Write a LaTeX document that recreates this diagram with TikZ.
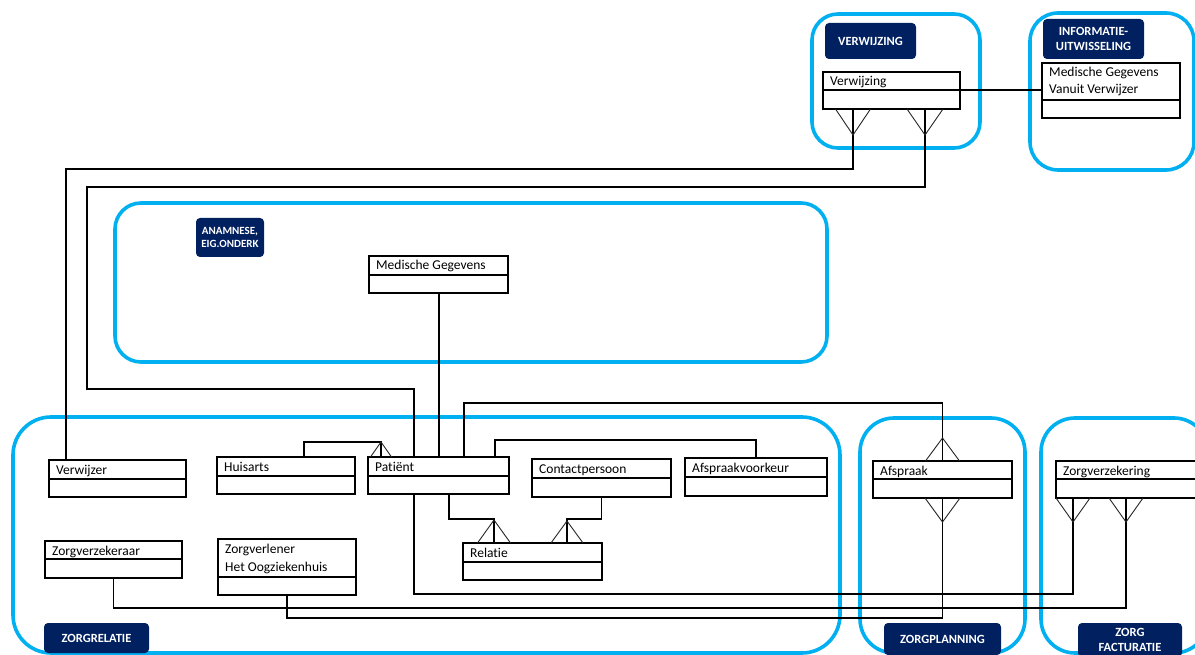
\documentclass[tikz,border=0pt]{standalone}
\usepackage{fontspec}
\setmainfont{Carlito}[Ligatures={NoCommon}]
\usetikzlibrary{fit}
\definecolor{groupblue}{RGB}{0,176,240}
\definecolor{labelnavy}{RGB}{0,32,96}

\tikzset{
  group/.style={draw=groupblue, line width=3.6pt, rounded corners=#1, inner sep=0pt, outer sep=0pt},
  group/.default=30pt,
  classbox/.style={draw=black, line width=1.8pt, fill=white, inner sep=0pt, outer sep=0pt},
  divider/.style={draw=black, line width=1.8pt},
  classtext/.style={anchor=base west, inner sep=0pt, font=\fontsize{13.5}{18}\selectfont},
  conn/.style={draw=black, line width=1.8pt},
  foot/.style={draw=black!85, line width=0.9pt},
  tag/.style={fill=labelnavy, rounded corners=4pt, text=white, align=center, inner sep=0pt,
    font=\bfseries\fontsize{12.5}{15.5}\selectfont},
}

% class box: name, left, top, right, divider y, bottom, title
\newcommand\umlclass[7]{%
  \node[classbox, fit={(#2,#3) (#4,#6)}] (#1) {};
  \draw[divider] (#2,#5) -- (#4,#5);
  \node[classtext] (#1-title) at ({#2+7},{#3+14}) {#7};
}
% crow's foot: point, half width, depth (positive = upwards)
\newcommand\crowfoot[3]{%
  \draw[foot] ([xshift=-#2]#1) -- ([yshift=#3]#1) -- ([xshift=#2]#1);
}

\begin{document}
\begin{tikzpicture}[x=1pt, y=-1pt]
\useasboundingbox (0,0) rectangle (1195,655);
\fill[white] (0,0) rectangle (1195,655);
\clip (0,0) rectangle (1195,655);

% ---- domain groups ----
\node[group=26pt, fit={(812,14) (980,148)}] (g-verwijzing) {};
\node[group=28pt, fit={(1030,13) (1194,170)}] (g-info) {};
\node[group=26pt, fit={(115,203) (827,362)}] (g-anamnese) {};
\node[group=38pt, fit={(13,417) (840,653)}] (g-zorgrelatie) {};
\node[group=34pt, fit={(860,418) (1025,653)}] (g-zorgplanning) {};
\node[group=34pt, fit={(1041,418) (1208,653)}] (g-facturatie) {};

% ---- classes ----
\umlclass{verwijzing}{823}{72}{960}{90}{109}{Verwijzing}
\umlclass{mgvv}{1042}{63}{1180}{100}{118}{Medische Gegevens}
\node[classtext] (mgvv-title2) at (1049,94) {Vanuit Verwijzer};
\umlclass{medgeg}{369}{256}{508}{275}{293}{Medische Gegevens}
\umlclass{verwijzer}{49}{460}{186}{479}{497}{Verwijzer}
\umlclass{huisarts}{217}{457}{355}{476}{494}{Huisarts}
\umlclass{patient}{368}{457}{509}{476}{494}{Patiënt}
\umlclass{contact}{532}{459}{671}{478}{497}{Contactpersoon}
\umlclass{afspraakvk}{685}{458}{827}{477}{496}{Afspraakvoorkeur}
\umlclass{relatie}{463}{543}{602}{562}{580}{Relatie}
\umlclass{zorgverzekeraar}{45}{541}{182}{559}{578}{Zorgverzekeraar}
\umlclass{zorgverlener}{218}{539}{356}{577}{595}{Zorgverlener}
\node[classtext] (zorgverlener-title2) at (225,571) {Het Oogziekenhuis};
\umlclass{afspraak}{873}{461}{1012}{479}{498}{Afspraak}
\umlclass{zorgverz}{1056}{461}{1205}{479}{498}{Zorgverzekering}

% ---- attachment points ----
\coordinate (vw-a) at ([xshift=30pt]verwijzing.south west);
\coordinate (vw-b) at ([xshift=102pt]verwijzing.south west);
\coordinate (vw-e) at ([yshift=0.5pt]verwijzing.east);
\coordinate (pt-n1) at ([xshift=46pt]patient.north west);
\coordinate (pt-n2) at ([xshift=71pt]patient.north west);
\coordinate (pt-n3) at ([xshift=96pt]patient.north west);
\coordinate (pt-n4) at ([xshift=127pt]patient.north west);
\coordinate (pt-ha) at ([xshift=13pt]patient.north west);
\coordinate (pt-s1) at ([xshift=46pt]patient.south west);
\coordinate (pt-s2) at ([xshift=81pt]patient.south west);
\coordinate (ha-n) at ([xshift=87pt]huisarts.north west);
\coordinate (vz-n) at ([xshift=17pt]verwijzer.north west);
\coordinate (rel-a) at ([xshift=31pt]relatie.north west);
\coordinate (rel-b) at ([xshift=104pt]relatie.north west);
\coordinate (zv-a) at ([xshift=17pt]zorgverz.south west);
\coordinate (zv-b) at ([xshift=70pt]zorgverz.south west);

% ---- connectors ----
\draw[conn] (vz-n) -- ++(0,-291) -| (vw-a);
\draw[conn] (pt-n1) -- ++(0,-68) -- ++(-327,0) -- ++(0,-202) -| (vw-b);
\draw[conn] (pt-n2) -- (pt-n2 |- medgeg.south);
\draw[conn] (pt-n3) -- ++(0,-54) -| (afspraak.north);
\draw[conn] (pt-n4) -- ++(0,-17) -| (afspraakvk.north);
\draw[conn] (ha-n) -- ++(0,-15) -| (pt-ha);
\draw[conn] (pt-s2) -- ++(0,25) -| (rel-a);
\draw[conn] (contact.south) -- ++(0,22) -| (rel-b);
\draw[conn] (pt-s1) -- ++(0,100) -| (zv-a);
\draw[conn] (zorgverzekeraar.south) -- ++(0,30) -| (zv-b);
\draw[conn] (zorgverlener.south) -- ++(0,23) -| (afspraak.south);
\draw[conn] (vw-e) -- (mgvv.west |- vw-e);

% ---- crow's feet ----
\crowfoot{vw-a}{17.5pt}{-26pt}
\crowfoot{vw-b}{18pt}{-26pt}
\crowfoot{afspraak.north}{17pt}{23pt}
\crowfoot{afspraak.south}{17.5pt}{-24pt}
\crowfoot{zv-a}{17pt}{-24pt}
\crowfoot{zv-b}{17pt}{-24pt}
\crowfoot{rel-a}{16.5pt}{23pt}
\crowfoot{rel-b}{16pt}{22pt}
\crowfoot{pt-ha}{10.5pt}{15pt}

% ---- group labels ----
\node[tag, minimum width=91pt, minimum height=36pt] (t-verwijzing) at (870.5,41) {VERWIJZING};
\node[tag, minimum width=101pt, minimum height=40pt] (t-info) at (1093.5,39) {INFORMATIE-\\UITWISSELING};
\node[tag, minimum width=68pt, minimum height=39pt, font=\bfseries\fontsize{11}{12.5}\selectfont] (t-anamnese) at (230,237.5) {ANAMNESE,\\EIG.ONDERK};
\node[tag, minimum width=105pt, minimum height=30pt] (t-zorgrelatie) at (96.5,638) {ZORGRELATIE};
\node[tag, minimum width=117pt, minimum height=32pt] (t-zorgplanning) at (942.5,639) {ZORGPLANNING};
\node[tag, minimum width=104pt, minimum height=34pt] (t-facturatie) at (1130,640) {ZORG\\FACTURATIE};
\end{tikzpicture}
\end{document}
